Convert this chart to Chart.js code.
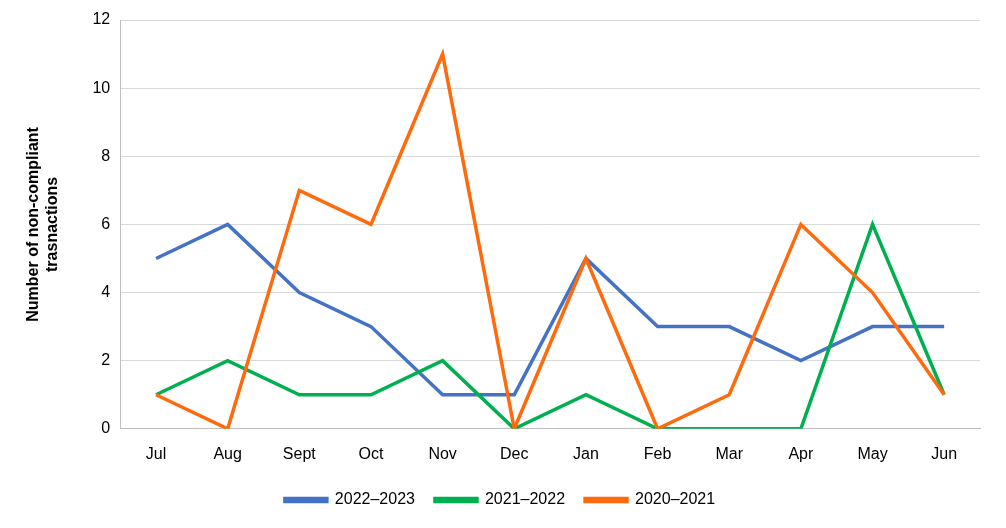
<!DOCTYPE html>
<html><head><script src="https://cdn.jsdelivr.net/npm/chart.js@4"></script>
<style>body{margin:0;background:#fff}#w{width:1006px;height:528px}</style></head>
<body><div id="w"><canvas id="c"></canvas></div>
<script>
const categories=["Jul","Aug","Sept","Oct","Nov","Dec","Jan","Feb","Mar","Apr","May","Jun"];
const s2022_2023=[5,6,4,3,1,1,5,3,3,2,3,3];
const s2021_2022=[1,2,1,1,2,0,1,0,0,0,6,1];
const s2020_2021=[1,0,7,6,11,0,5,0,1,6,4,1];
const yTicks=[0,2,4,6,8,10,12];
const f="'Liberation Sans', Arial, sans-serif";
new Chart(document.getElementById('c'),{type:'line',
data:{labels:categories,datasets:[
{label:'2022–2023',data:s2022_2023,borderColor:'#4472C4',backgroundColor:'#4472C4',order:3},
{label:'2021–2022',data:s2021_2022,borderColor:'#00B050',backgroundColor:'#00B050',order:2},
{label:'2020–2021',data:s2020_2021,borderColor:'#FF6A0D',backgroundColor:'#FF6A0D',order:1}]},
options:{responsive:true,maintainAspectRatio:false,animation:false,
elements:{line:{borderWidth:3.5,tension:0},point:{radius:0}},
layout:{padding:{left:20,right:26,top:20,bottom:10}},
plugins:{legend:{position:'bottom',labels:{font:{family:f,size:16},color:'#000',boxWidth:42,boxHeight:3,padding:20,sort:(a,b)=>a.datasetIndex-b.datasetIndex}},tooltip:{enabled:false}},
scales:{x:{offset:true,grid:{display:false,drawTicks:true},border:{color:'#bfbfbf'},ticks:{font:{family:f,size:16},color:'#000',padding:8}},
y:{min:0,max:12,afterBuildTicks:a=>{a.ticks=yTicks.map(v=>({value:v}))},grid:{color:'#d9d9d9',drawTicks:false},border:{display:true,color:'#bfbfbf'},
ticks:{font:{family:f,size:16},color:'#000',padding:10},
title:{display:true,text:['Number of non-compliant','trasnactions'],font:{family:f,size:16,weight:'bold'},color:'#000',padding:{bottom:20}}}}}});
</script></body></html>
